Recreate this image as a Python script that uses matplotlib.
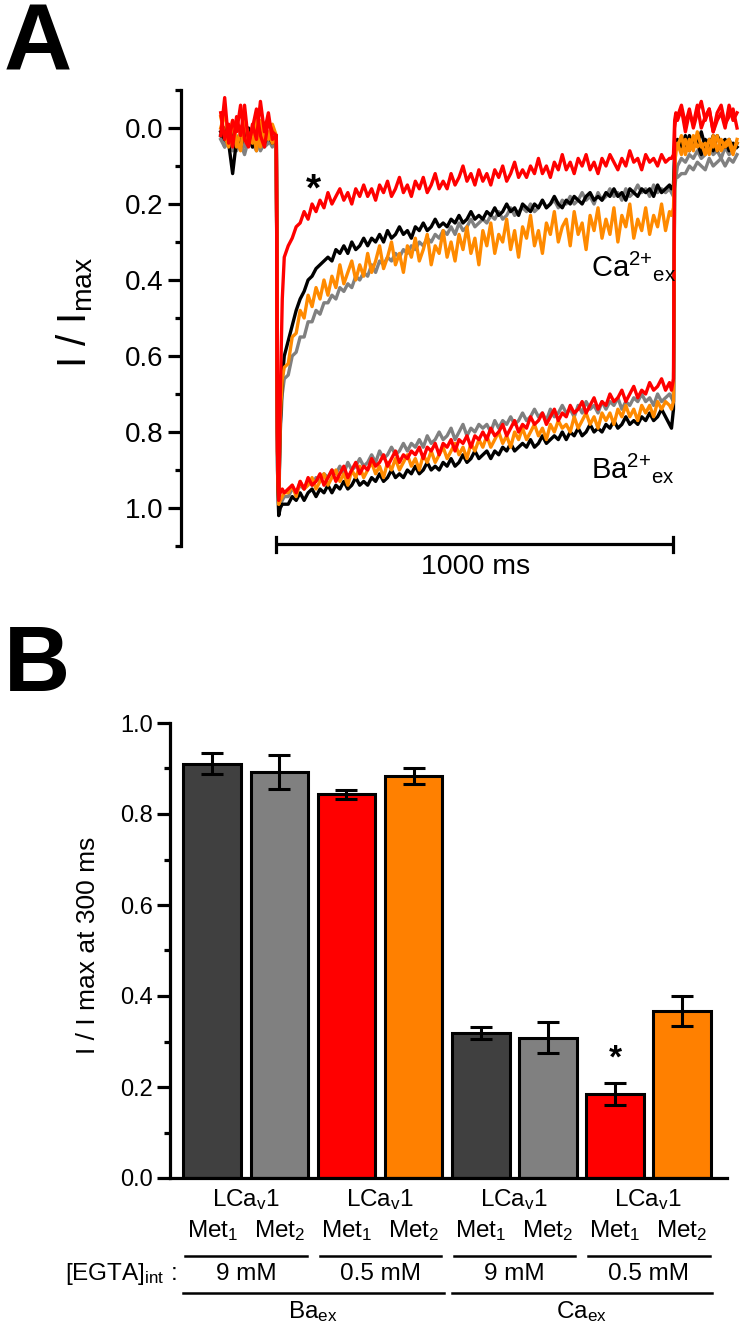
import numpy as np
import matplotlib
matplotlib.use("Agg")
import matplotlib.pyplot as plt
from matplotlib.transforms import blended_transform_factory

plt.rcParams['font.family'] = ['Liberation Sans', 'DejaVu Sans']
plt.rcParams['mathtext.default'] = 'regular'

W, H = 742, 1336

# ---------------- Panel A data (time in ms, normalised current) ----------------
t_pre = list(range(-140, 0, 10))
t_on = [0, 3, 6, 10, 15, 20]
t_mid = list(range(30, 1000, 10))
t_off = [995, 1000, 1003, 1006]
t_post = list(range(1010, 1170, 10))
time_ms = np.array(t_pre + t_on + t_mid + t_off + t_post, dtype=float)

ca_black = [
    0.01, 0.03, 0.04, 0.12, 0.03, 0.05, 0.01, 0.04, 0.02, 0.03, 0.00, 0.04, 0.02, 0.03,
    0.02, 0.80, 0.98, 0.78, 0.66, 0.60,
    0.56, 0.52, 0.48, 0.45, 0.43, 0.40, 0.39, 0.37, 0.36, 0.35,
    0.34, 0.35, 0.32, 0.33, 0.31, 0.33, 0.30, 0.32, 0.31, 0.29,
    0.31, 0.29, 0.30, 0.28, 0.30, 0.27, 0.29, 0.28, 0.26, 0.28,
    0.27, 0.29, 0.26, 0.27, 0.25, 0.27, 0.26, 0.24, 0.26, 0.25,
    0.26, 0.24, 0.25, 0.23, 0.25, 0.24, 0.22, 0.24, 0.23, 0.24,
    0.22, 0.23, 0.21, 0.23, 0.22, 0.20, 0.22, 0.21, 0.23, 0.20,
    0.21, 0.22, 0.20, 0.21, 0.19, 0.21, 0.20, 0.18, 0.20, 0.21,
    0.19, 0.20, 0.18, 0.19, 0.20, 0.18, 0.17, 0.19, 0.18, 0.19,
    0.17, 0.18, 0.16, 0.18, 0.17, 0.19, 0.16, 0.17, 0.18, 0.16,
    0.17, 0.16, 0.18, 0.15, 0.17, 0.16, 0.15,
    0.16, 0.15, 0.06, 0.04,
    0.05, 0.03, 0.06, 0.02, 0.05, 0.04, 0.07, 0.03, 0.05, 0.02, 0.06, 0.04, 0.03, 0.06, 0.04, 0.05]

ca_gray = [
    0.02, 0.05, 0.03, 0.06, 0.02, 0.04, 0.07, 0.03, 0.05, 0.02, 0.06, 0.04, 0.03, 0.05,
    0.02, 0.82, 1.00, 0.80, 0.70, 0.66,
    0.65, 0.60, 0.59, 0.55, 0.55, 0.51, 0.51, 0.48, 0.49, 0.46,
    0.46, 0.44, 0.45, 0.42, 0.43, 0.41, 0.42, 0.39, 0.40, 0.38,
    0.39, 0.36, 0.38, 0.35, 0.36, 0.34, 0.35, 0.33, 0.34, 0.32,
    0.33, 0.31, 0.32, 0.30, 0.31, 0.29, 0.30, 0.28, 0.29, 0.27,
    0.28, 0.26, 0.28, 0.25, 0.27, 0.26, 0.24, 0.26, 0.25, 0.24,
    0.25, 0.23, 0.24, 0.22, 0.24, 0.23, 0.21, 0.23, 0.22, 0.21,
    0.22, 0.20, 0.22, 0.21, 0.19, 0.21, 0.20, 0.19, 0.21, 0.19,
    0.20, 0.18, 0.20, 0.19, 0.17, 0.19, 0.18, 0.20, 0.17, 0.19,
    0.18, 0.16, 0.18, 0.17, 0.19, 0.16, 0.18, 0.17, 0.15, 0.17,
    0.16, 0.18, 0.15, 0.17, 0.16, 0.17, 0.16,
    0.17, 0.18, 0.14, 0.12,
    0.13, 0.12, 0.12, 0.10, 0.11, 0.09, 0.10, 0.11, 0.08, 0.10, 0.09, 0.08, 0.10, 0.08, 0.09, 0.07]

ca_orange = [
    0.00, -0.04, 0.03, -0.02, 0.05, 0.01, -0.03, 0.04, 0.00, 0.06, -0.02, 0.03, 0.01, 0.04,
    0.02, 0.80, 0.99, 0.76, 0.66, 0.63,
    0.62, 0.55, 0.54, 0.48, 0.50, 0.44, 0.47, 0.42, 0.45, 0.40,
    0.44, 0.39, 0.42, 0.36, 0.41, 0.38, 0.35, 0.40, 0.36, 0.39,
    0.33, 0.38, 0.35, 0.31, 0.37, 0.34, 0.30, 0.36, 0.33, 0.38,
    0.31, 0.34, 0.29, 0.35, 0.32, 0.28, 0.36, 0.31, 0.33, 0.27,
    0.34, 0.30, 0.35, 0.28, 0.32, 0.26, 0.33, 0.29, 0.36, 0.27,
    0.31, 0.25, 0.33, 0.28, 0.30, 0.24, 0.32, 0.27, 0.34, 0.26,
    0.29, 0.23, 0.31, 0.27, 0.33, 0.25, 0.28, 0.22, 0.30, 0.26,
    0.24, 0.31, 0.22, 0.28, 0.25, 0.32, 0.23, 0.27, 0.21, 0.29,
    0.24, 0.28, 0.21, 0.30, 0.23, 0.26, 0.20, 0.29, 0.24, 0.27,
    0.21, 0.28, 0.23, 0.26, 0.20, 0.27, 0.22,
    0.23, 0.21, 0.10, 0.06,
    0.05, 0.02, 0.07, 0.03, 0.06, 0.01, 0.05, 0.04, 0.07, 0.02, 0.06, 0.03, 0.05, 0.04, 0.07, 0.03]

ca_red = [
    0.02, -0.08, 0.04, -0.02, 0.01, -0.06, 0.03, 0.05, -0.01, 0.03, -0.07, 0.01, -0.04, 0.03,
    0.02, 0.85, 0.98, 0.70, 0.45, 0.34,
    0.31, 0.29, 0.26, 0.25, 0.22, 0.24, 0.20, 0.22, 0.19, 0.21,
    0.17, 0.20, 0.18, 0.16, 0.19, 0.17, 0.20, 0.16, 0.18, 0.15,
    0.18, 0.16, 0.19, 0.15, 0.17, 0.14, 0.18, 0.16, 0.13, 0.17,
    0.15, 0.18, 0.14, 0.16, 0.13, 0.17, 0.15, 0.12, 0.16, 0.14,
    0.16, 0.12, 0.15, 0.13, 0.10, 0.14, 0.12, 0.15, 0.11, 0.14,
    0.12, 0.15, 0.11, 0.13, 0.10, 0.14, 0.12, 0.09, 0.13, 0.11,
    0.13, 0.10, 0.12, 0.08, 0.12, 0.10, 0.13, 0.09, 0.11, 0.07,
    0.11, 0.09, 0.12, 0.08, 0.10, 0.07, 0.11, 0.09, 0.12, 0.08,
    0.10, 0.07, 0.09, 0.11, 0.08, 0.10, 0.06, 0.09, 0.08, 0.11,
    0.07, 0.09, 0.08, 0.10, 0.07, 0.09, 0.08,
    0.08, 0.07, -0.02, -0.04,
    -0.03, -0.06, -0.01, -0.05, 0.00, -0.04, -0.07, -0.02, -0.05, 0.01, -0.04, -0.06, -0.01, -0.03, -0.05, 0.00]

ba_black = [
    0.02, 0.00, 0.03, 0.01, 0.04, 0.02, 0.03, 0.00, 0.05, 0.02, 0.01, 0.03, 0.02, 0.04,
    0.02, 0.90, 1.02, 1.00, 0.99, 0.99,
    0.99, 0.97, 0.98, 0.96, 0.98, 0.96, 0.95, 0.97, 0.95, 0.96,
    0.94, 0.96, 0.94, 0.95, 0.93, 0.95, 0.94, 0.92, 0.94, 0.93,
    0.94, 0.92, 0.93, 0.91, 0.93, 0.92, 0.90, 0.92, 0.91, 0.92,
    0.90, 0.91, 0.89, 0.91, 0.90, 0.88, 0.90, 0.89, 0.90, 0.88,
    0.89, 0.87, 0.89, 0.88, 0.86, 0.88, 0.87, 0.85, 0.87, 0.86,
    0.85, 0.87, 0.85, 0.86, 0.84, 0.85, 0.83, 0.85, 0.84, 0.83,
    0.84, 0.82, 0.84, 0.83, 0.81, 0.83, 0.82, 0.81, 0.82, 0.80,
    0.82, 0.80, 0.81, 0.79, 0.81, 0.80, 0.78, 0.80, 0.79, 0.80,
    0.78, 0.79, 0.77, 0.79, 0.78, 0.76, 0.78, 0.77, 0.78, 0.76,
    0.77, 0.75, 0.77, 0.76, 0.74, 0.76, 0.78,
    0.79, 0.74, 0.08, 0.04,
    0.03, 0.05, 0.02, 0.06, 0.03, 0.04, 0.01, 0.05, 0.03, 0.06, 0.02, 0.04, 0.05, 0.03, 0.06, 0.04]

ba_gray = [
    0.03, 0.05, 0.02, 0.04, 0.06, 0.03, 0.05, 0.02, 0.04, 0.06, 0.03, 0.05, 0.04, 0.02,
    0.02, 0.88, 1.01, 0.99, 0.98, 0.97,
    0.97, 0.95, 0.96, 0.94, 0.95, 0.93, 0.94, 0.92, 0.93, 0.91,
    0.92, 0.90, 0.91, 0.89, 0.91, 0.88, 0.90, 0.89, 0.87, 0.89,
    0.88, 0.86, 0.88, 0.85, 0.87, 0.86, 0.84, 0.86, 0.85, 0.83,
    0.85, 0.83, 0.84, 0.82, 0.84, 0.81, 0.83, 0.82, 0.80, 0.82,
    0.81, 0.79, 0.82, 0.80, 0.78, 0.81, 0.79, 0.80, 0.78, 0.79,
    0.78, 0.80, 0.77, 0.79, 0.77, 0.78, 0.76, 0.78, 0.77, 0.75,
    0.77, 0.76, 0.74, 0.76, 0.75, 0.77, 0.74, 0.76, 0.75, 0.73,
    0.75, 0.74, 0.76, 0.73, 0.75, 0.72, 0.74, 0.73, 0.75, 0.72,
    0.74, 0.72, 0.73, 0.71, 0.74, 0.72, 0.73, 0.71, 0.72, 0.70,
    0.72, 0.71, 0.73, 0.70, 0.72, 0.71, 0.70,
    0.71, 0.72, 0.16, 0.13,
    0.10, 0.08, 0.09, 0.07, 0.08, 0.06, 0.08, 0.07, 0.05, 0.07, 0.06, 0.08, 0.05, 0.07, 0.06, 0.05]

ba_orange = [
    -0.03, 0.02, 0.05, -0.01, 0.03, 0.06, -0.02, 0.02, 0.04, -0.03, 0.05, 0.00, 0.03, -0.01,
    0.02, 0.86, 0.99, 0.98, 0.97, 0.96,
    0.96, 0.94, 0.97, 0.93, 0.95, 0.94, 0.92, 0.95, 0.93, 0.91,
    0.94, 0.92, 0.90, 0.93, 0.91, 0.94, 0.90, 0.92, 0.89, 0.92,
    0.90, 0.88, 0.91, 0.89, 0.92, 0.88, 0.90, 0.87, 0.90, 0.88,
    0.86, 0.89, 0.87, 0.90, 0.86, 0.88, 0.85, 0.88, 0.86, 0.84,
    0.87, 0.85, 0.83, 0.86, 0.84, 0.87, 0.83, 0.85, 0.82, 0.84,
    0.81, 0.84, 0.82, 0.80, 0.83, 0.81, 0.84, 0.80, 0.82, 0.79,
    0.82, 0.80, 0.78, 0.81, 0.79, 0.82, 0.78, 0.80, 0.77, 0.79,
    0.78, 0.80, 0.76, 0.79, 0.77, 0.75, 0.78, 0.76, 0.79, 0.75,
    0.77, 0.75, 0.78, 0.74, 0.76, 0.73, 0.76, 0.74, 0.77, 0.73,
    0.75, 0.73, 0.76, 0.72, 0.74, 0.72, 0.73,
    0.74, 0.72, 0.10, 0.06,
    0.04, 0.07, 0.03, 0.06, 0.02, 0.05, 0.04, 0.07, 0.03, 0.05, 0.02, 0.06, 0.04, 0.03, 0.06, 0.04]

ba_red = [
    -0.04, 0.03, -0.01, 0.05, -0.03, 0.02, -0.06, 0.04, 0.00, -0.05, 0.02, 0.05, -0.02, 0.01,
    0.02, 0.85, 0.97, 0.96, 0.95, 0.96,
    0.95, 0.94, 0.96, 0.93, 0.95, 0.92, 0.94, 0.93, 0.91, 0.94,
    0.92, 0.90, 0.93, 0.91, 0.89, 0.92, 0.90, 0.88, 0.91, 0.89,
    0.90, 0.87, 0.89, 0.88, 0.86, 0.89, 0.87, 0.85, 0.88, 0.86,
    0.87, 0.85, 0.86, 0.84, 0.87, 0.84, 0.85, 0.83, 0.86, 0.83,
    0.84, 0.82, 0.85, 0.82, 0.83, 0.81, 0.84, 0.81, 0.82, 0.80,
    0.82, 0.79, 0.81, 0.80, 0.78, 0.81, 0.79, 0.77, 0.80, 0.78,
    0.79, 0.76, 0.78, 0.77, 0.75, 0.78, 0.76, 0.74, 0.77, 0.75,
    0.76, 0.73, 0.75, 0.74, 0.72, 0.75, 0.73, 0.71, 0.74, 0.72,
    0.73, 0.70, 0.72, 0.71, 0.69, 0.72, 0.70, 0.68, 0.71, 0.69,
    0.70, 0.67, 0.69, 0.68, 0.66, 0.69, 0.67,
    0.69, 0.66, 0.00, -0.03,
    -0.02, -0.05, 0.01, -0.04, -0.01, -0.06, 0.00, -0.03, -0.05, 0.01, -0.02, -0.04, 0.00, -0.06, -0.02, -0.04]

trace_colors = {'black': '#000000', 'gray': '#808080', 'orange': '#ff8a00', 'red': '#ff0000'}

# ---------------- Panel B data ----------------
bar_labels = ['Ba 9mM Met1', 'Ba 9mM Met2', 'Ba 0.5mM Met1', 'Ba 0.5mM Met2',
              'Ca 9mM Met1', 'Ca 9mM Met2', 'Ca 0.5mM Met1', 'Ca 0.5mM Met2']
bar_values = [0.910, 0.892, 0.843, 0.883, 0.319, 0.308, 0.185, 0.366]
bar_errors = [0.023, 0.038, 0.010, 0.018, 0.013, 0.034, 0.024, 0.033]
bar_colors = ['#404040', '#808080', '#ff0000', '#ff8000'] * 2
egta_labels = ['9 mM', '0.5 mM', '9 mM', '0.5 mM']
ion_labels = [r'Ba$_{ex}$', r'Ca$_{ex}$']

fig = plt.figure(figsize=(W / 100, H / 100), dpi=100)


def fx(px):
    return px / W


def fy(py):
    return 1 - py / H


# ---------------- Panel A ----------------
axA = fig.add_axes([fx(181), fy(546), fx(741) - fx(181), fy(90) - fy(546)])
axA.set_xlim(-240, 1170)
axA.set_ylim(1.1, -0.1)
lw = 2.4
axA.plot(time_ms, ba_gray, color=trace_colors['gray'], lw=lw)
axA.plot(time_ms, ca_gray, color=trace_colors['gray'], lw=lw)
axA.plot(time_ms, ba_black, color=trace_colors['black'], lw=lw)
axA.plot(time_ms, ca_black, color=trace_colors['black'], lw=lw)
axA.plot(time_ms, ba_orange, color=trace_colors['orange'], lw=lw)
axA.plot(time_ms, ca_orange, color=trace_colors['orange'], lw=lw)
axA.plot(time_ms, ba_red, color=trace_colors['red'], lw=lw)
axA.plot(time_ms, ca_red, color=trace_colors['red'], lw=lw)

for s in ['top', 'right', 'bottom']:
    axA.spines[s].set_visible(False)
axA.spines['left'].set_linewidth(2.3)
axA.set_xticks([])
axA.set_yticks([0.0, 0.2, 0.4, 0.6, 0.8, 1.0])
axA.set_yticks(np.arange(-0.1, 1.11, 0.2), minor=True)
axA.set_yticklabels(['0.0', '0.2', '0.4', '0.6', '0.8', '1.0'])
axA.tick_params(axis='y', which='major', length=9.5, width=2.3, labelsize=20, pad=3)
axA.tick_params(axis='y', which='minor', length=4.5, width=2.3)

# scale bar
axA.plot([0, 1000], [1.095, 1.095], color='black', lw=2.3, clip_on=False, solid_capstyle='butt')
axA.plot([0, 0], [1.075, 1.115], color='black', lw=2.3, clip_on=False)
axA.plot([1000, 1000], [1.075, 1.115], color='black', lw=2.3, clip_on=False)
fig.text(fx(476), fy(567), '1000 ms', ha='center', va='center', fontsize=20.5)

axA.text(792, 0.389, r'Ca$^{2{+}}$$_{ex}$', fontsize=21, ha='left', va='baseline')
axA.text(792, 0.922, r'Ba$^{2{+}}$$_{ex}$', fontsize=21, ha='left', va='baseline')
axA.text(93, 0.165, '*', fontsize=28, fontweight='bold', ha='center', va='center')

fig.text(fx(75), fy(312), r'I / I$_{max}$', rotation=90, ha='center', va='center', fontsize=29)
fig.text(fx(4), fy(71), 'A', fontsize=68, fontweight='bold', ha='left', va='baseline')

# ---------------- Panel B ----------------
axB = fig.add_axes([fx(170), fy(1178), fx(727) - fx(170), fy(723) - fy(1178)])
x = np.arange(len(bar_values))
axB.bar(x, bar_values, width=0.86, color=bar_colors, edgecolor='black', linewidth=2.2, zorder=2)
axB.errorbar(x, bar_values, yerr=bar_errors, fmt='none', ecolor='black', elinewidth=2.2,
             capsize=8, capthick=2.2, zorder=3)
axB.set_xlim(-0.63, 7.67)
axB.set_ylim(0, 1.0)
for s in ['top', 'right']:
    axB.spines[s].set_visible(False)
axB.spines['left'].set_linewidth(2.3)
axB.spines['bottom'].set_linewidth(2.3)
axB.set_xticks([])
axB.set_yticks([0.0, 0.2, 0.4, 0.6, 0.8, 1.0])
axB.set_yticklabels(['0.0', '0.2', '0.4', '0.6', '0.8', '1.0'])
axB.set_yticks(np.arange(0.1, 1.0, 0.2), minor=True)
axB.tick_params(axis='y', which='major', length=9.5, width=2.3, labelsize=17, pad=3)
axB.tick_params(axis='y', which='minor', length=4.5, width=2.3)
axB.text(6, 0.262, '*', fontsize=24, fontweight='bold', ha='center', va='center')

fig.text(fx(88), fy(945), 'I / I max at 300 ms', rotation=90, ha='center', va='center', fontsize=19)
fig.text(fx(4), fy(691), 'B', fontsize=66, fontweight='bold', ha='left', va='baseline')

tr = blended_transform_factory(axB.transData, fig.transFigure)
for g in range(4):
    c = 2 * g + 0.5
    fig.text(c, fy(1200), r'LCa$_{v}$1', transform=tr, ha='center', va='center', fontsize=17.5)
    fig.text(2 * g, fy(1231), r'Met$_{1}$', transform=tr, ha='center', va='center', fontsize=17.5)
    fig.text(2 * g + 1, fy(1231), r'Met$_{2}$', transform=tr, ha='center', va='center', fontsize=17.5)
    fig.lines.append(plt.Line2D([2 * g - 0.40, 2 * g + 1.41], [fy(1256), fy(1256)],
                                transform=tr, color='black', lw=1.8))
    fig.text(c, fy(1274), egta_labels[g], transform=tr, ha='center', va='center', fontsize=17.5)
for k in range(2):
    fig.lines.append(plt.Line2D([4 * k - 0.43, 4 * k + 3.45], [fy(1293), fy(1293)],
                                transform=tr, color='black', lw=1.8))
    fig.text(4 * k + 1.5, fy(1312), ion_labels[k], transform=tr, ha='center', va='center', fontsize=17.5)
fig.text(fx(177), fy(1274), r'[EGTA]$_{int}$ :', ha='right', va='center', fontsize=17.5)

fig.savefig('out.png', dpi=100)
